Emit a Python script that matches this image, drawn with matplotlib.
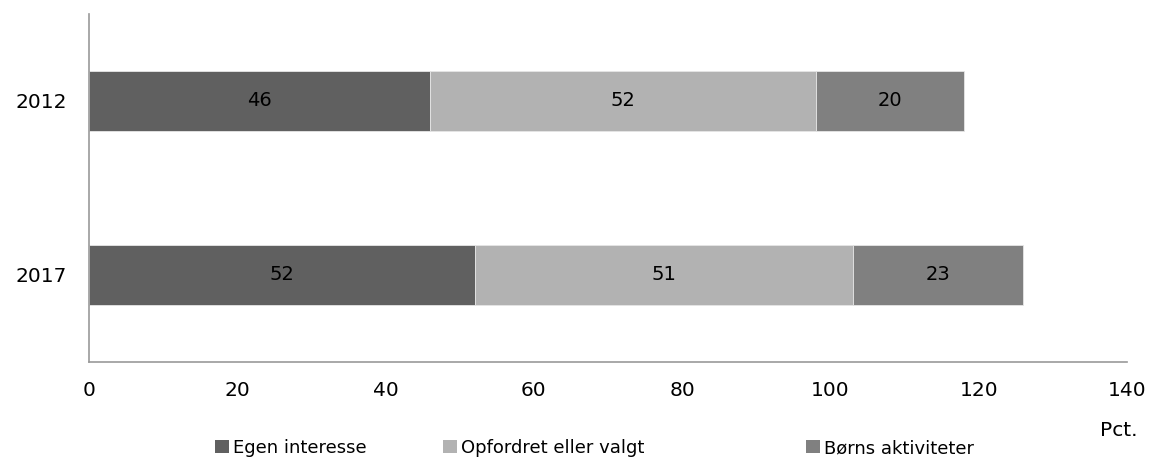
import matplotlib
matplotlib.use("Agg")
import matplotlib.pyplot as plt
from matplotlib.patches import Patch

years = ["2012", "2017"]
series_names = ["Egen interesse", "Opfordret eller valgt", "Børns aktiviteter"]
egen = [46, 52]
opfordret = [52, 51]
boerns = [20, 23]
colors = ["#606060", "#b2b2b2", "#808080"]
xticks = [0, 20, 40, 60, 80, 100, 120, 140]

plt.rcParams['font.family'] = ['DejaVu Sans']
fig = plt.figure(figsize=(11.5, 4.57), dpi=100)
ax = fig.add_axes([89/1150, 95/457, (1127-89)/1150, (362-14)/457])

ypos = list(range(len(years)))
left = [0] * len(years)
for vals, col in zip([egen, opfordret, boerns], colors):
    ax.barh(ypos, vals, left=left, height=0.35, color=col,
            edgecolor="#e6e6e6", linewidth=0.6)
    for y, v, l in zip(ypos, vals, left):
        ax.text(l + v / 2, y, str(v), ha="center", va="center",
                fontsize=14, color="black")
    left = [a + b for a, b in zip(left, vals)]

ax.set_ylim(1.5, -0.5)
ax.set_xlim(0, 140)
ax.set_xticks(xticks)
ax.set_xticklabels([str(t) for t in xticks], fontsize=14.5)
ax.set_yticks(ypos)
ax.set_yticklabels(years, fontsize=14.5)
ax.tick_params(axis="both", length=0)
ax.tick_params(axis="x", pad=14)
ax.tick_params(axis="y", pad=16)
for s in ["top", "right"]:
    ax.spines[s].set_visible(False)
for s in ["left", "bottom"]:
    ax.spines[s].set_color("#999999")
    ax.spines[s].set_linewidth(1.2)

fig.text(1137/1150, 1 - 430/457, "Pct.", ha="right", va="center", fontsize=14.5)

legend_x = [215, 443, 806]
for name, col, lx in zip(series_names, colors, legend_x):
    fig.legend(handles=[Patch(facecolor=col, edgecolor="none")], labels=[name],
               loc="center left", bbox_to_anchor=(lx/1150, 1 - 448/457),
               frameon=False, fontsize=13, handlelength=0.75, handleheight=0.75,
               handletextpad=0.25, borderpad=0, borderaxespad=0)

fig.savefig("out.png", dpi=100)
